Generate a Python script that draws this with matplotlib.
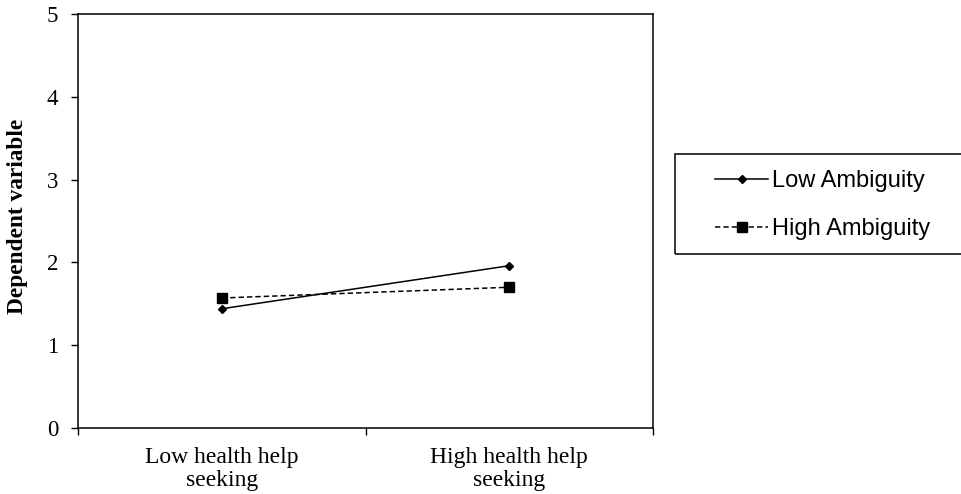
import numpy as np
from matplotlib import pyplot as plt
from matplotlib.patches import Rectangle

# data
conditions = ['Low health help\nseeking', 'High health help\nseeking']
low_ambiguity = [1.44, 1.96]
high_ambiguity = [1.57, 1.70]
y_ticks = [0, 1, 2, 3, 4, 5]

serif = 'Liberation Serif'
sans = 'Liberation Sans'

fig = plt.figure(figsize=(9.61, 4.94), dpi=100)
ax = fig.add_axes([78 / 961, 1 - 428 / 494, (653 - 78) / 961, (428 - 14) / 494])

xpos = np.arange(len(conditions)) + 0.5
l1, = ax.plot(xpos, low_ambiguity, color='black', lw=1.1, marker='D', markersize=4,
              label='Low Ambiguity')
l2, = ax.plot(xpos, high_ambiguity, color='black', lw=1.1, ls=(0, (3.5, 2)), marker='s',
              markersize=6.5, label='High Ambiguity')

ax.set_xlim(0, len(conditions))
ax.set_ylim(0, 5)
ax.set_yticks(y_ticks)
ax.set_yticklabels([str(t) for t in y_ticks], fontfamily=serif, fontsize=16.5)
ax.set_xticks(np.arange(len(conditions) + 1))
ax.set_xticklabels([])
ax.set_xticks(xpos, minor=True)
ax.set_xticklabels(conditions, minor=True, fontfamily=serif, fontsize=17, linespacing=1.15)
ax.tick_params(axis='x', which='minor', length=0, pad=13.5)
ax.tick_params(axis='x', which='major', length=5, width=1, direction='out')
ax.tick_params(axis='y', length=5, width=1, direction='out', pad=9.4)
for s in ax.spines.values():
    s.set_linewidth(1.1)

ax.set_ylabel('Dependent variable', fontfamily=serif, fontweight='bold', fontsize=16.8)
ax.yaxis.set_label_coords((28 - 78) / 575, (428 - 216) / 414)

# legend box drawn as a figure patch
fig.patches.append(Rectangle((675 / 961, 1 - 254 / 494), (963 - 675) / 961, 100 / 494,
                             transform=fig.transFigure, fill=False, edgecolor='black', lw=1.1))
fig.legend(handles=[l1, l2], loc='center left', bbox_to_anchor=(715 / 961, 1 - 205 / 494),
           frameon=False, borderpad=0, borderaxespad=0, handlelength=2.25, handletextpad=0.17,
           labelspacing=1.09, numpoints=1, prop={'family': sans, 'size': 17})

fig.savefig('out.png', dpi=100)
